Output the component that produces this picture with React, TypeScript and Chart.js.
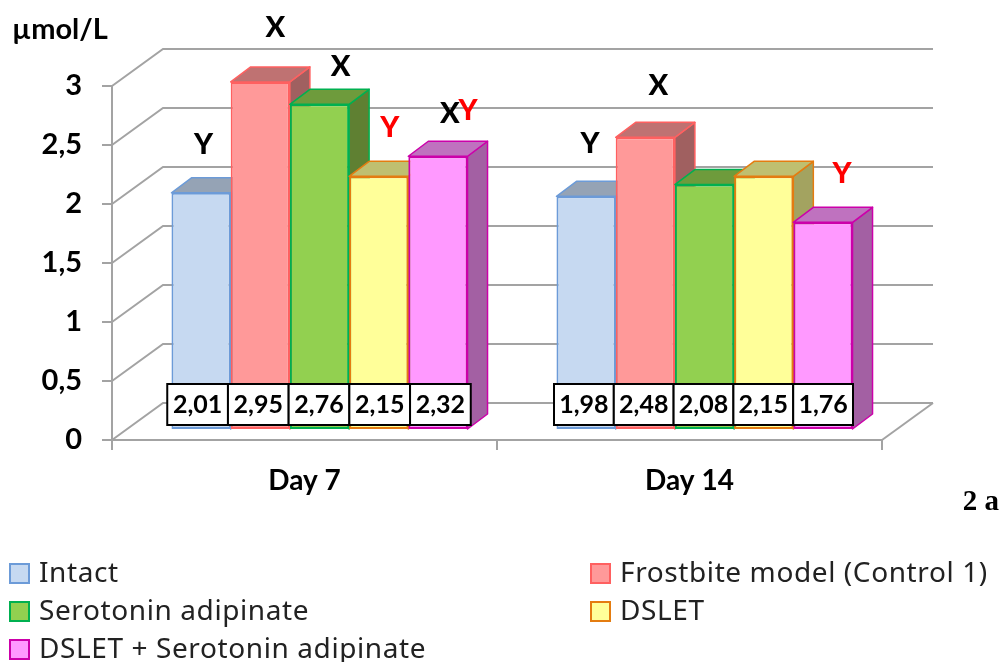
import React, { useEffect, useRef } from "react";
import { Chart, registerables } from "chart.js";

Chart.register(...registerables);

const categories = ["Day 7", "Day 14"];
const seriesNames = [
  "Intact",
  "Frostbite model (Control 1)",
  "Serotonin adipinate",
  "DSLET",
  "DSLET + Serotonin adipinate",
];
const intact = [2.01, 1.98];
const frostbite = [2.95, 2.48];
const serotonin = [2.76, 2.08];
const dslet = [2.15, 2.15];
const dsletSerotonin = [2.32, 1.76];
const yTicks = [0, 0.5, 1, 1.5, 2, 2.5, 3];
const unitLabel = "µmol/L";
const panelLabel = "2 a";

const fills = ["#C6D9F1", "#FF9999", "#92D050", "#FFFF99", "#FF99FF"];
const strokes = ["#6C9BD8", "#FF6060", "#00B050", "#E47C10", "#CC00AA"];
const tops = ["#95A3B5", "#BF7272", "#6E9B3C", "#BFBF70", "#BF72BF"];
const sides = ["#8392A5", "#A06060", "#5F8032", "#A3A360", "#A360A3"];

// significance letters: [series, category, text, colour]
const marks: [number, number, string, string][] = [
  [0, 0, "Y", "#000000"],
  [1, 0, "X", "#000000"],
  [2, 0, "X", "#000000"],
  [3, 0, "Y", "#FF0000"],
  [4, 0, "X", "#000000"],
  [4, 0, "Y", "#FF0000"],
  [0, 1, "Y", "#000000"],
  [1, 1, "X", "#000000"],
  [4, 1, "Y", "#FF0000"],
];
const markOffsets = [
  [2.5, -48],
  [15, -54],
  [21, -38],
  [11, -49],
  [12, -43],
  [30, -46],
  [4, -53],
  [13, -52],
  [19, -49],
];

const BAR_DX = 15;
const BAR_DY = -10;
const DEPTH_X = 20;
const DEPTH_Y = -15;
const WALL_X = 51;
const WALL_Y = -37;
const GREY = "#A3A3A3";
const BOLD = "Lato";
const REGULAR = "'Noto Sans'";
const CELL_W = [60.7, 59.8];
const CELL_SHIFT = [-0.5, -1];

const fmt = (v: number, d?: number) =>
  (d === undefined ? String(v) : v.toFixed(d)).replace(".", ",");

const poly = (ctx: CanvasRenderingContext2D, pts: number[][], fill: string, stroke: string) => {
  ctx.beginPath();
  pts.forEach((p, i) => (i ? ctx.lineTo(p[0], p[1]) : ctx.moveTo(p[0], p[1])));
  ctx.closePath();
  ctx.fillStyle = fill;
  ctx.fill();
  ctx.strokeStyle = stroke;
  ctx.lineWidth = 1.5;
  ctx.stroke();
};

const bar3d = {
  id: "bar3d",
  beforeDatasetsDraw(chart: any) {
    const { ctx, scales } = chart;
    const { x: xs, y: ys } = scales;
    ctx.save();
    ctx.strokeStyle = GREY;
    ctx.lineWidth = 2;
    yTicks.forEach((v) => {
      const y = ys.getPixelForValue(v);
      ctx.beginPath();
      ctx.moveTo(xs.left, y);
      ctx.lineTo(xs.left + WALL_X, y + WALL_Y);
      ctx.lineTo(xs.right + WALL_X, y + WALL_Y);
      ctx.stroke();
    });
    const b = ys.getPixelForValue(0);
    ctx.beginPath();
    ctx.moveTo(xs.right, b);
    ctx.lineTo(xs.right + WALL_X, b + WALL_Y);
    ctx.stroke();
    ctx.restore();

    // bars are painted left to right, so each one overlaps the depth of the previous
    ctx.save();
    ctx.translate(BAR_DX, BAR_DY);
    ctx.lineJoin = "round";
    categories.forEach((_, c) => {
      seriesNames.forEach((__, i) => {
        const meta = chart.getDatasetMeta(i);
        const el = meta.data[c];
        const { x, y, base, width } = el.getProps(["x", "y", "base", "width"]);
        const l = x - width / 2;
        const r = x + width / 2;
        poly(ctx, [[r, y], [r + DEPTH_X, y + DEPTH_Y], [r + DEPTH_X, base + DEPTH_Y], [r, base]], sides[i], strokes[i]);
        poly(ctx, [[l, y], [r, y], [r + DEPTH_X, y + DEPTH_Y], [l + DEPTH_X, y + DEPTH_Y]], tops[i], strokes[i]);
        el.draw(ctx);
      });
    });
    ctx.restore();
  },
  beforeDatasetDraw() {
    return false;
  },
  afterDatasetsDraw(chart: any) {
    const { ctx, scales } = chart;
    const zero = scales.y.getPixelForValue(0);
    ctx.save();

    // value table
    ctx.textAlign = "center";
    ctx.textBaseline = "middle";
    ctx.font = `bold 25px ${BOLD}`;
    const mid = chart.getDatasetMeta(2);
    chart.data.datasets.forEach((ds: any, i: number) => {
      chart.getDatasetMeta(i).data.forEach((el: any, j: number) => {
        const w = CELL_W[j];
        const cx = mid.data[j].x + BAR_DX + CELL_SHIFT[j] + (i - 2) * w;
        ctx.fillStyle = "#FFFFFF";
        ctx.strokeStyle = "#000000";
        ctx.lineWidth = 2;
        ctx.fillRect(cx - w / 2, zero - 56, w, 41);
        ctx.strokeRect(cx - w / 2, zero - 56, w, 41);
        ctx.fillStyle = "#000000";
        ctx.fillText(fmt(ds.data[j], 2), cx, zero - 35);
      });
    });

    // significance letters
    ctx.font = `900 29px ${BOLD}`;
    marks.forEach(([s, c, text, color], k) => {
      const el = chart.getDatasetMeta(s).data[c];
      const { x, y } = el.getProps(["x", "y"]);
      ctx.fillStyle = color;
      ctx.fillText(text, x + BAR_DX + markOffsets[k][0], y + BAR_DY + markOffsets[k][1]);
    });

    // unit and panel label
    ctx.textAlign = "left";
    ctx.fillStyle = "#000000";
    ctx.font = `bold 29px ${BOLD}`;
    ctx.fillText(unitLabel, 12, 30);
    ctx.font = "bold 29px 'Liberation Serif'";
    ctx.textAlign = "right";
    ctx.fillText(panelLabel, 999, 503);

    // legend
    ctx.textAlign = "left";
    ctx.font = `28px ${REGULAR}`;
    (ctx as any).letterSpacing = "0.6px";
    const pos = [
      [10, 564],
      [591, 564],
      [10, 602],
      [591, 602],
      [10, 640],
    ];
    seriesNames.forEach((name, i) => {
      const [lx, ly] = pos[i];
      ctx.fillStyle = fills[i];
      ctx.strokeStyle = strokes[i];
      ctx.lineWidth = 2;
      ctx.fillRect(lx, ly, 19, 19);
      ctx.strokeRect(lx, ly, 19, 19);
      ctx.fillStyle = "#222222";
      ctx.fillText(name, lx + 29, ly + 10);
    });
    ctx.restore();
  },
};

export default function App() {
  const ref = useRef<HTMLCanvasElement | null>(null);
  useEffect(() => {
    const values = [intact, frostbite, serotonin, dslet, dsletSerotonin];
    const chart = new Chart(ref.current as HTMLCanvasElement, {
      type: "bar",
      data: {
        labels: categories,
        datasets: seriesNames.map((label, i) => ({
          label,
          data: values[i],
          backgroundColor: fills[i],
          borderColor: strokes[i],
          borderWidth: 2,
          borderSkipped: false,
          categoryPercentage: 0.769,
          barPercentage: 1,
        })),
      } as any,
      options: {
        responsive: false,
        animation: false,
        layout: { padding: { top: 86, right: 118, left: 0, bottom: 0 } },
        plugins: { legend: { display: false }, tooltip: { enabled: false }, title: { display: false } },
        scales: {
          x: {
            afterFit: (s: any) => {
              s.height = 222;
            },
            border: { color: GREY, width: 2 },
            grid: { drawOnChartArea: false, tickLength: 10, color: GREY, lineWidth: 2 },
            ticks: { color: "#000", font: { family: BOLD, weight: "bold", size: 28 }, padding: 14, maxRotation: 0 },
          },
          y: {
            min: 0,
            max: 3,
            afterFit: (s: any) => {
              s.width = 112;
            },
            border: { color: GREY, width: 2 },
            grid: { drawOnChartArea: false, tickLength: 10, color: GREY, lineWidth: 2 },
            ticks: {
              stepSize: 0.5,
              color: "#000",
              font: { family: BOLD, weight: "bold", size: 29 },
              padding: 20,
              callback: (v: any) => fmt(Number(v)),
            },
          },
        },
      } as any,
      plugins: [bar3d as any],
    });
    return () => chart.destroy();
  }, []);
  return (
    <div style={{ position: "absolute", left: 0, top: 0, width: 1000, height: 662, background: "#fff" }}>
      <canvas ref={ref} width={1000} height={662} style={{ display: "block" }} />
    </div>
  );
}
